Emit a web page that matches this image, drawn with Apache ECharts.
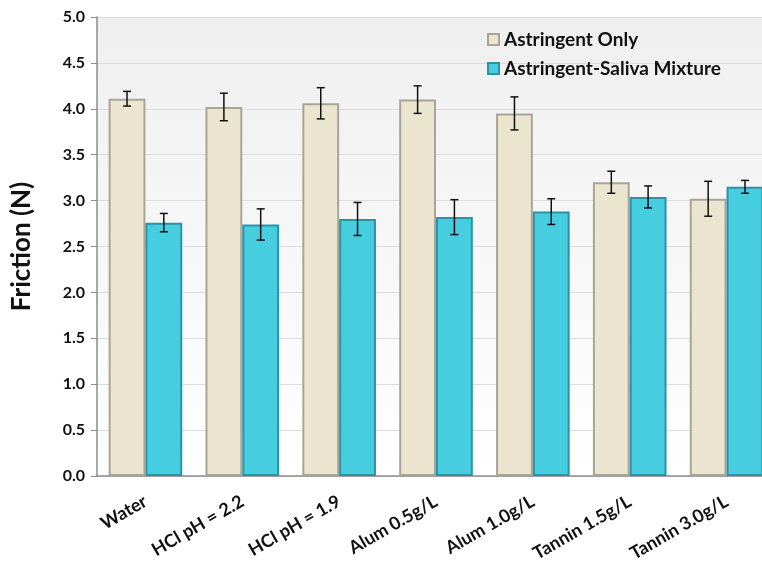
<!DOCTYPE html>
<html>
<head>
<meta charset="utf-8">
<script src="https://cdn.jsdelivr.net/npm/echarts@6/dist/echarts.min.js"></script>
<style>
html,body{margin:0;padding:0;background:#fff;overflow:hidden;}
#chart{width:762px;height:578px;}
</style>
</head>
<body>
<div id="chart"></div>
<script>
// Treatments along the x axis
const categories = ['Water', 'HCl pH = 2.2', 'HCl pH = 1.9', 'Alum 0.5g/L', 'Alum 1.0g/L', 'Tannin 1.5g/L', 'Tannin 3.0g/L'];
// Mean friction (N)
const astringentOnly = [4.11, 4.02, 4.06, 4.10, 3.95, 3.20, 3.02];
const salivaMixture  = [2.76, 2.74, 2.80, 2.82, 2.88, 3.04, 3.15];
// Standard deviation (N)
const astringentOnlyErr = [0.08, 0.15, 0.17, 0.15, 0.18, 0.12, 0.19];
const salivaMixtureErr  = [0.10, 0.17, 0.18, 0.19, 0.14, 0.12, 0.07];
const yTicks = [0, 0.5, 1, 1.5, 2, 2.5, 3, 3.5, 4, 4.5, 5];

const FONT = 'Lato';
const CAT_GAP = 0.24;

function errorData(vals, errs) {
  return vals.map((v, i) => [i, v - errs[i], v + errs[i]]);
}

// Draws a whisker with caps over one bar of the pair (side -1 = left, +1 = right)
function makeErrorRenderer(side) {
  return function (params, api) {
    const band = api.size([1, 0])[0];
    const barW = band * (1 - CAT_GAP) / 2;
    const c = api.coord([api.value(0), 0]);
    const x = c[0] + side * barW / 2;
    const lo = api.coord([api.value(0), api.value(1)])[1];
    const hi = api.coord([api.value(0), api.value(2)])[1];
    const cap = 4;
    const style = { stroke: '#111', lineWidth: 1.5 };
    return {
      type: 'group',
      children: [
        { type: 'line', shape: { x1: x, y1: hi, x2: x, y2: lo }, style },
        { type: 'line', shape: { x1: x - cap, y1: hi, x2: x + cap, y2: hi }, style },
        { type: 'line', shape: { x1: x - cap, y1: lo, x2: x + cap, y2: lo }, style }
      ]
    };
  };
}

const chart = echarts.init(document.getElementById('chart'));
chart.setOption({
  animation: false,
  backgroundColor: '#ffffff',
  grid: {
    left: 97, top: 17, bottom: 102, width: 678,
    outerBoundsMode: 'none',
    containLabel: false,
    show: true,
    borderWidth: 0,
    backgroundColor: new echarts.graphic.LinearGradient(0, 0, 0, 1, [
      { offset: 0, color: '#efefef' },
      { offset: 1, color: '#ffffff' }
    ])
  },
  legend: {
    left: 482, top: 25,
    orient: 'vertical',
    itemGap: 10,
    itemWidth: 11, itemHeight: 11,
    icon: 'rect',
    textStyle: { fontFamily: FONT, fontWeight: 'bold', fontSize: 19, color: '#111' },
    data: ['Astringent Only', 'Astringent-Saliva Mixture']
  },
  xAxis: {
    type: 'category',
    data: categories,
    axisLine: { lineStyle: { color: '#8c8c8c', width: 1.5 } },
    axisTick: { show: false },
    axisLabel: {
      interval: 0,
      rotate: 30,
      margin: 24,
      fontFamily: FONT, fontWeight: 'bold', fontSize: 18, color: '#111'
    }
  },
  yAxis: {
    type: 'value',
    min: 0, max: 5, interval: 0.5,
    name: 'Friction (N)',
    nameLocation: 'middle',
    nameGap: 62,
    nameTextStyle: { fontFamily: FONT, fontWeight: 'bold', fontSize: 26, color: '#111' },
    axisLine: { show: true, lineStyle: { color: '#8c8c8c', width: 1.5 } },
    axisTick: { show: true, length: 6, lineStyle: { color: '#8c8c8c' } },
    axisLabel: {
      margin: 12,
      fontFamily: FONT, fontWeight: 'bold', fontSize: 16, color: '#111',
      formatter: v => yTicks.includes(v) ? v.toFixed(1) : ''
    },
    splitLine: { lineStyle: { color: '#dcdcdc', width: 1 } }
  },
  series: [
    {
      name: 'Astringent Only',
      type: 'bar',
      data: astringentOnly,
      barGap: '0%',
      barCategoryGap: (CAT_GAP * 100) + '%',
      itemStyle: {
        color: '#ebe5d0',
        borderColor: '#a9a596',
        borderWidth: 2
      }
    },
    {
      name: 'Astringent-Saliva Mixture',
      type: 'bar',
      data: salivaMixture,
      barGap: '0%',
      barCategoryGap: (CAT_GAP * 100) + '%',
      itemStyle: {
        color: '#46cde0',
        borderColor: '#2a93a5',
        borderWidth: 2
      }
    },
    {
      type: 'custom',
      name: 'err1',
      renderItem: makeErrorRenderer(-1),
      data: errorData(astringentOnly, astringentOnlyErr),
      encode: { x: 0, y: [1, 2] },
      z: 10
    },
    {
      type: 'custom',
      name: 'err2',
      renderItem: makeErrorRenderer(1),
      data: errorData(salivaMixture, salivaMixtureErr),
      encode: { x: 0, y: [1, 2] },
      z: 10
    }
  ]
});
</script>
</body>
</html>
